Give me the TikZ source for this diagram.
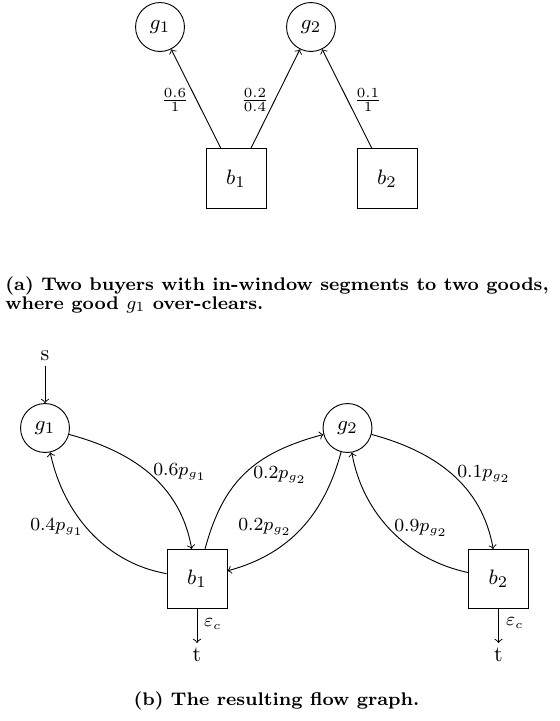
\documentclass[tikz,border=0pt]{standalone}
\usepackage{amsmath}
\begin{document}
\begin{tikzpicture}[x=0.4313pt,y=0.4313pt,
  good/.style={circle,draw,minimum size=21.1pt,inner sep=0pt,font=\fontsize{9.5}{11}\selectfont},
  buyer/.style={rectangle,draw,minimum width=25.9pt,minimum height=25.5pt,inner sep=0pt,font=\fontsize{9.5}{11}\selectfont},
  lbl/.style={font=\fontsize{7.6}{9}\selectfont,inner sep=1pt},
  fraclbl/.style={font=\fontsize{8}{9}\selectfont,inner sep=1pt},
  term/.style={font=\fontsize{9.5}{11}\selectfont,inner sep=2pt},
  captext/.style={font=\fontsize{7.9}{10}\selectfont\bfseries,inner sep=0pt},
  flow/.style={->}
]
\useasboundingbox (0,0) rectangle (559,-721);

% ---------- (a) ----------
\node[good] (ag1) at (160,-27) {$g_1$};
\node[good] (ag2) at (311,-27) {$g_2$};
\node[buyer] (ab1) at (236,-178.5) {$b_1$};
\node[buyer] (ab2) at (387,-178.5) {$b_2$};
\draw[flow] (ab1) -- (ag1);
\draw[flow] (ab1) -- (ag2);
\draw[flow] (ab2) -- (ag2);
\node[fraclbl] (fa1) at (175,-100) {$\frac{0.6}{1}$};
\node[fraclbl] (fa2) at (255,-100) {$\frac{0.2}{0.4}$};
\node[fraclbl] (fa3) at (368,-100) {$\frac{0.1}{1}$};

\node[captext,anchor=base west] (capa1) at (5,-290.5) {(a) Two buyers with in-window segments to two goods,};
\node[captext,anchor=base west] (capa2) at (5,-309) {where good $g_1$ over-clears.};

% ---------- (b) ----------
\node[term] (s) at (45,-356) {s};
\node[good] (g1) at (45,-428) {$g_1$};
\node[good] (g2) at (347.5,-428) {$g_2$};
\node[buyer] (b1) at (197,-579) {$b_1$};
\node[buyer] (b2) at (498.5,-579) {$b_2$};
\node[term] (t1) at (197,-655) {t};
\node[term] (t2) at (498.5,-655) {t};

\draw[flow] (s) -- (g1);
\draw[flow] (g1) to[out=-15,in=100] (b1);
\draw[flow] (b1) to[out=170,in=-78,looseness=0.95] (g1);
\draw[flow] (b1) to[out=75,in=195,looseness=1.1] (g2);
\draw[flow] (g2) to[out=-105,in=15] (b1);
\draw[flow] (g2) to[out=-15,in=100] (b2);
\draw[flow] (b2) to[out=168,in=-80,looseness=0.95] (g2);
\draw[flow] (b1) -- (t1);
\draw[flow] (b2) -- (t2);

\node[lbl] (l1) at (180,-472) {$0.6p_{g_1}$};
\node[lbl] (l2) at (57,-527) {$0.4p_{g_1}$};
\node[lbl] (l3) at (280,-475) {$0.2p_{g_2}$};
\node[lbl] (l4) at (265,-527) {$0.2p_{g_2}$};
\node[lbl] (l5) at (484,-474) {$0.1p_{g_2}$};
\node[lbl] (l6) at (421,-528) {$0.9p_{g_2}$};
\node[lbl] (e1) at (213,-624) {$\varepsilon_c$};
\node[lbl] (e2) at (515,-623) {$\varepsilon_c$};

\node[captext,anchor=base] (capb) at (276.5,-705) {(b) The resulting flow graph.};
\end{tikzpicture}
\end{document}
